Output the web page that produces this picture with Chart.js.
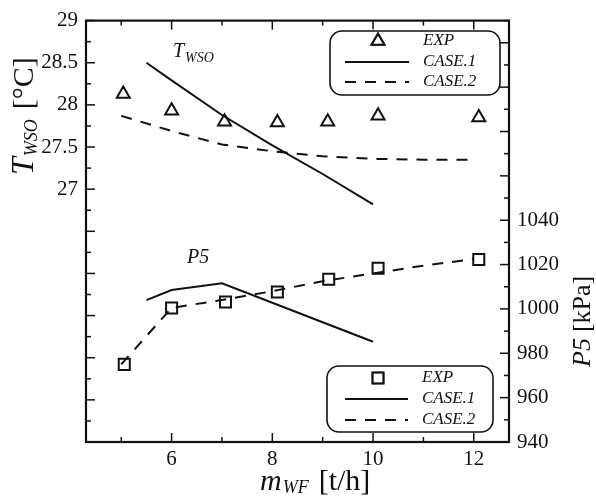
<!DOCTYPE html>
<html>
<head>
<meta charset="utf-8">
<script src="https://cdn.jsdelivr.net/npm/chart.js@4.4.1/dist/chart.umd.min.js"></script>
<style>
  html, body { margin: 0; padding: 0; background: #fff; }
  #chart { display: block; }
</style>
</head>
<body>
<canvas id="chart" width="596" height="498"></canvas>
<script>
// water flow rate [t/h] vs outlet temperature and P5 pressure
const tempExpFlow = [5.04, 6.0, 7.05, 8.1, 9.1, 10.1, 12.1];
const tempExp = [28.13, 27.93, 27.80, 27.79, 27.80, 27.87, 27.85];
const tempCase1Flow = [5.5, 6, 7, 8, 9, 10];
const tempCase1 = [28.5, 28.29, 27.88, 27.52, 27.18, 26.82];
const tempCase2Flow = [5, 6, 7, 8, 9, 10, 11, 12];
const tempCase2 = [27.87, 27.69, 27.53, 27.45, 27.39, 27.36, 27.35, 27.35];

const pressExpFlow = [5.06, 6.0, 7.07, 8.1, 9.12, 10.1, 12.1];
const pressExp = [975, 1000.4, 1003.1, 1007.6, 1013.4, 1018.3, 1022.3];
const pressCase1Flow = [5.5, 6, 7, 8, 9, 10];
const pressCase1 = [1004, 1008.5, 1011.6, 1002.8, 994, 985.2];
const pressCase2Flow = [5, 6, 7, 8, 9, 10, 11, 12];
const pressCase2 = [975, 1000.5, 1004, 1008, 1012.5, 1016, 1019.5, 1022.5];

const flowTickLabels = [6, 8, 10, 12];
const tempTickLabels = [27, 27.5, 28, 28.5, 29];
const pressTickLabels = [940, 960, 980, 1000, 1020, 1040];

const INK = '#111';
const SERIF = "'Liberation Serif', 'DejaVu Serif', serif";
const DASH = [11, 9];

Chart.defaults.font.family = SERIF;
Chart.defaults.color = INK;

function pts(xs, ys) {
  return xs.map((x, i) => ({ x: x, y: ys[i] }));
}

function inList(list, v) {
  return list.some(l => Math.abs(l - v) < 1e-6);
}

function markerSet(label, xs, ys, axis, style, radius) {
  return {
    label: label, data: pts(xs, ys), yAxisID: axis,
    showLine: false, pointStyle: style, pointRadius: radius,
    pointBorderWidth: 2, pointBorderColor: INK, pointBackgroundColor: 'rgba(0,0,0,0)',
    borderColor: INK
  };
}

function lineSet(label, xs, ys, axis, dash) {
  return {
    label: label, data: pts(xs, ys), yAxisID: axis,
    borderColor: INK, borderWidth: 2, borderDash: dash,
    pointRadius: 0, tension: 0, fill: false
  };
}

// rich text: parts drawn one after another, sub parts dropped below the baseline
function drawParts(ctx, parts, x, y) {
  let cx = x;
  parts.forEach(p => {
    ctx.font = p.font;
    ctx.fillText(p.text, cx, y + (p.dy || 0));
    cx += ctx.measureText(p.text).width + (p.gap || 0);
  });
}

function drawLegend(ctx, box, rows) {
  ctx.save();
  ctx.beginPath();
  ctx.roundRect(box.x, box.y, box.w, box.h, 12);
  ctx.fillStyle = '#fff';
  ctx.fill();
  ctx.lineWidth = 1.6;
  ctx.strokeStyle = INK;
  ctx.stroke();
  rows.forEach(r => {
    const ds = r.ds;
    if (ds.showLine === false) {
      Chart.helpers.drawPoint(ctx, {
        pointStyle: ds.pointStyle, radius: ds.pointRadius, borderWidth: 2, rotation: 0
      }, box.markX, r.y);
      ctx.lineWidth = 2;
      ctx.stroke();
    } else {
      ctx.beginPath();
      ctx.setLineDash(ds.borderDash || []);
      ctx.lineWidth = 2;
      ctx.moveTo(box.lineX0, r.y);
      ctx.lineTo(box.lineX1, r.y);
      ctx.stroke();
      ctx.setLineDash([]);
    }
    ctx.fillStyle = INK;
    ctx.textBaseline = 'middle';
    ctx.font = 'italic 17px ' + SERIF;
    ctx.fillText(ds.label, box.textX, r.y);
  });
  ctx.restore();
}

const frameAndText = {
  id: 'frameAndText',
  afterDatasetsDraw(chart) {
    const { ctx, chartArea: a, scales } = chart;
    ctx.save();
    ctx.strokeStyle = INK;
    ctx.lineWidth = 1.5;
    const seg = (x0, y0, x1, y1) => {
      ctx.beginPath(); ctx.moveTo(x0, y0); ctx.lineTo(x1, y1); ctx.stroke();
    };
    // inward ticks on all four sides
    scales.x.ticks.forEach(t => {
      const px = scales.x.getPixelForValue(t.value);
      const len = Math.round(t.value) % 2 === 0 ? 9 : 5;
      seg(px, a.bottom, px, a.bottom - len);
      seg(px, a.top, px, a.top + len);
    });
    scales.yT.ticks.forEach(t => {
      const py = scales.yT.getPixelForValue(t.value);
      const half = t.value * 2;
      const len = Math.abs(half - Math.round(half)) < 1e-6 ? 9 : 5;
      seg(a.left, py, a.left + len, py);
    });
    scales.yP.ticks.forEach(t => {
      const py = scales.yP.getPixelForValue(t.value);
      const len = Math.round(t.value) % 20 === 0 ? 9 : 5;
      seg(a.right, py, a.right - len, py);
    });
    ctx.lineWidth = 2.2;
    ctx.strokeRect(a.left, a.top, a.width, a.height);
    ctx.restore();
  },
  afterDraw(chart) {
    const { ctx } = chart;
    const ds = chart.data.datasets;
    ctx.save();
    ctx.fillStyle = INK;
    ctx.textBaseline = 'alphabetic';

    // curve labels
    drawParts(ctx, [
      { text: 'T', font: 'italic 20px ' + SERIF, gap: 1 },
      { text: 'WSO', font: 'italic 14px ' + SERIF, dy: 5 }
    ], 173, 57);
    drawParts(ctx, [{ text: 'P5', font: 'italic 20px ' + SERIF }], 187, 263);

    // x axis title
    drawParts(ctx, [
      { text: 'm', font: 'italic 30px ' + SERIF, gap: 1 },
      { text: 'WF', font: 'italic 18px ' + SERIF, dy: 3, gap: 10 },
      { text: '[t/h]', font: '30px ' + SERIF }
    ], 260, 490);

    // left axis title, reading upward
    ctx.save();
    ctx.translate(33, 175);
    ctx.rotate(-Math.PI / 2);
    drawParts(ctx, [
      { text: 'T', font: 'italic 32px ' + SERIF, gap: 1 },
      { text: 'WSO', font: 'italic 18px ' + SERIF, dy: 4, gap: 10 },
      { text: '[°C]', font: '30px ' + SERIF }
    ], 0, 0);
    ctx.restore();

    // right axis title
    ctx.save();
    ctx.translate(590, 367);
    ctx.rotate(-Math.PI / 2);
    drawParts(ctx, [
      { text: 'P5', font: 'italic 26px ' + SERIF, gap: 6 },
      { text: '[kPa]', font: '26px ' + SERIF }
    ], 0, 0);
    ctx.restore();
    ctx.restore();

    drawLegend(ctx, { x: 330, y: 31, w: 170, h: 64, markX: 378, lineX0: 345, lineX1: 409, textX: 423 }, [
      { ds: ds[0], y: 41 }, { ds: ds[1], y: 62 }, { ds: ds[2], y: 82 }
    ]);
    drawLegend(ctx, { x: 327, y: 366, w: 166, h: 66, markX: 378, lineX0: 345, lineX1: 408, textX: 422 }, [
      { ds: ds[3], y: 378 }, { ds: ds[4], y: 399 }, { ds: ds[5], y: 420 }
    ]);
  }
};

const tickFont = { family: SERIF, size: 21 };

new Chart(document.getElementById('chart'), {
  type: 'line',
  data: {
    datasets: [
      markerSet('EXP', tempExpFlow, tempExp, 'yT', 'triangle', 7.5),
      lineSet('CASE.1', tempCase1Flow, tempCase1, 'yT', []),
      lineSet('CASE.2', tempCase2Flow, tempCase2, 'yT', DASH),
      markerSet('EXP', pressExpFlow, pressExp, 'yP', 'rect', 7.8),
      lineSet('CASE.1', pressCase1Flow, pressCase1, 'yP', []),
      lineSet('CASE.2', pressCase2Flow, pressCase2, 'yP', DASH)
    ]
  },
  options: {
    responsive: false,
    animation: false,
    devicePixelRatio: 1,
    layout: { padding: { top: 17, left: 0, right: 0, bottom: 0 } },
    plugins: { legend: { display: false }, tooltip: { enabled: false } },
    scales: {
      x: {
        type: 'linear', position: 'bottom', min: 4.3, max: 12.7,
        grid: { display: false, drawTicks: false }, border: { display: false },
        ticks: {
          stepSize: 1, includeBounds: false, autoSkip: false, maxRotation: 0,
          padding: 5, font: tickFont, color: INK,
          callback: v => inList(flowTickLabels, v) ? String(v) : ''
        },
        afterFit: s => { s.height = 56; }
      },
      yT: {
        type: 'linear', position: 'left', min: 24, max: 29,
        grid: { display: false, drawTicks: false }, border: { display: false },
        ticks: {
          stepSize: 0.25, includeBounds: false, autoSkip: false,
          padding: 8, font: tickFont, color: INK,
          callback: v => inList(tempTickLabels, v) ? String(v) : ''
        },
        afterFit: s => { s.width = 86; }
      },
      yP: {
        type: 'linear', position: 'right', min: 940, max: 1130,
        grid: { display: false, drawTicks: false }, border: { display: false },
        ticks: {
          stepSize: 10, includeBounds: false, autoSkip: false,
          padding: 8, font: tickFont, color: INK,
          callback: v => inList(pressTickLabels, v) ? String(v) : ''
        },
        afterFit: s => { s.width = 87; }
      }
    }
  },
  plugins: [frameAndText]
});
</script>
</body>
</html>
